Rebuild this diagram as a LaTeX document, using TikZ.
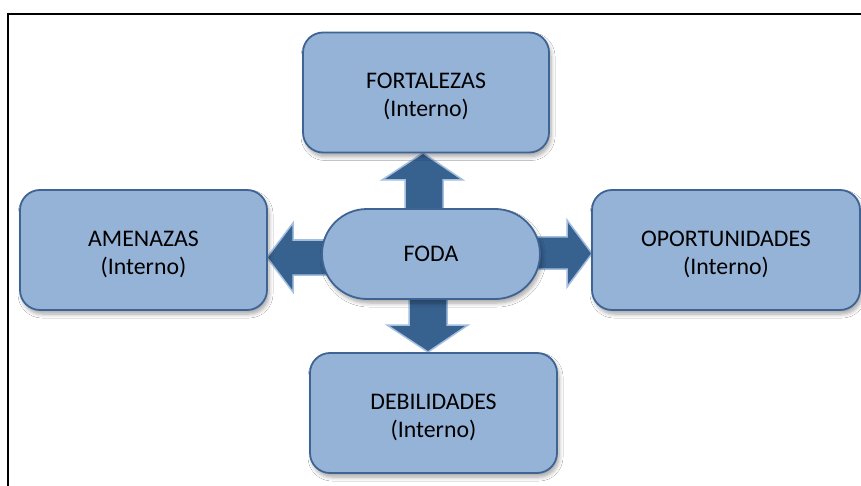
\documentclass[tikz,border=0pt]{standalone}
\usepackage{fontspec}
\setmainfont{Carlito}
\usetikzlibrary{shadows.blur}
\definecolor{boxfill}{HTML}{95B3D7}
\definecolor{boxline}{HTML}{3F6493}
\definecolor{arrfill}{HTML}{37618F}
\definecolor{arrline}{HTML}{A3BEDF}
\tikzset{
  card/.style={draw=boxline, line width=1.8pt, fill=boxfill, rounded corners=20pt,
    align=center, font=\fontsize{23.8}{28}\selectfont, inner sep=0pt,
    blur shadow={shadow xshift=2pt, shadow yshift=-4pt, shadow blur steps=6, shadow opacity=35, shadow blur radius=4pt}},
  cardtext/.style={align=center, font=\fontsize{23.8}{28}\selectfont, inner sep=0pt, yshift=-4pt},
  blockarrow/.style={fill=arrfill, draw=arrline, line width=1.5pt, line join=miter},
  frame/.style={line width=2.2pt, draw=black}
}
\begin{document}
\begin{tikzpicture}[x=1pt,y=-1pt]
\useasboundingbox (0,0) rectangle (861,486);
\fill[white] (0,0) rectangle (861,486);
\draw[frame] (861,14) -- (8,14) -- (8,486);
% block arrows (drawn under the boxes)
\coordinate (upTip) at (423,153);
\coordinate (leftTip) at (267,257.5);
\coordinate (rightTip) at (592,253.5);
\coordinate (downTip) at (428,352);
\draw[blockarrow] (upTip) -- (463,180) -- (443,180) -- (443,215) -- (405,215) -- (405,180) -- (382,180) -- cycle;
\draw[blockarrow] (leftTip) -- (293,223) -- (293,240) -- (330,240) -- (330,275) -- (293,275) -- (293,292) -- cycle;
\draw[blockarrow] (rightTip) -- (567,220) -- (567,237) -- (530,237) -- (530,269) -- (567,269) -- (567,287) -- cycle;
\draw[blockarrow] (downTip) -- (387,325) -- (409,325) -- (409,290) -- (447,290) -- (447,325) -- (468,325) -- cycle;
% boxes
\node[card, minimum width=246pt, minimum height=120pt,
  label={[cardtext]center:FORTALEZAS\\(Interno)}] (fort) at (426,92.5) {};
\node[card, minimum width=247pt, minimum height=120pt,
  label={[cardtext]center:AMENAZAS\\(Interno)}] (amen) at (143.5,250) {};
\node[card, minimum width=268pt, minimum height=120pt,
  label={[cardtext]center:OPORTUNIDADES\\(Interno)}] (opor) at (726,250) {};
\node[card, minimum width=247pt, minimum height=120pt,
  label={[cardtext]center:DEBILIDADES\\(Interno)}] (debi) at (433.5,413) {};
\node[card, rounded corners=45pt, minimum width=218pt, minimum height=90pt] (foda) at (431,254) {FODA};
\end{tikzpicture}
\end{document}
